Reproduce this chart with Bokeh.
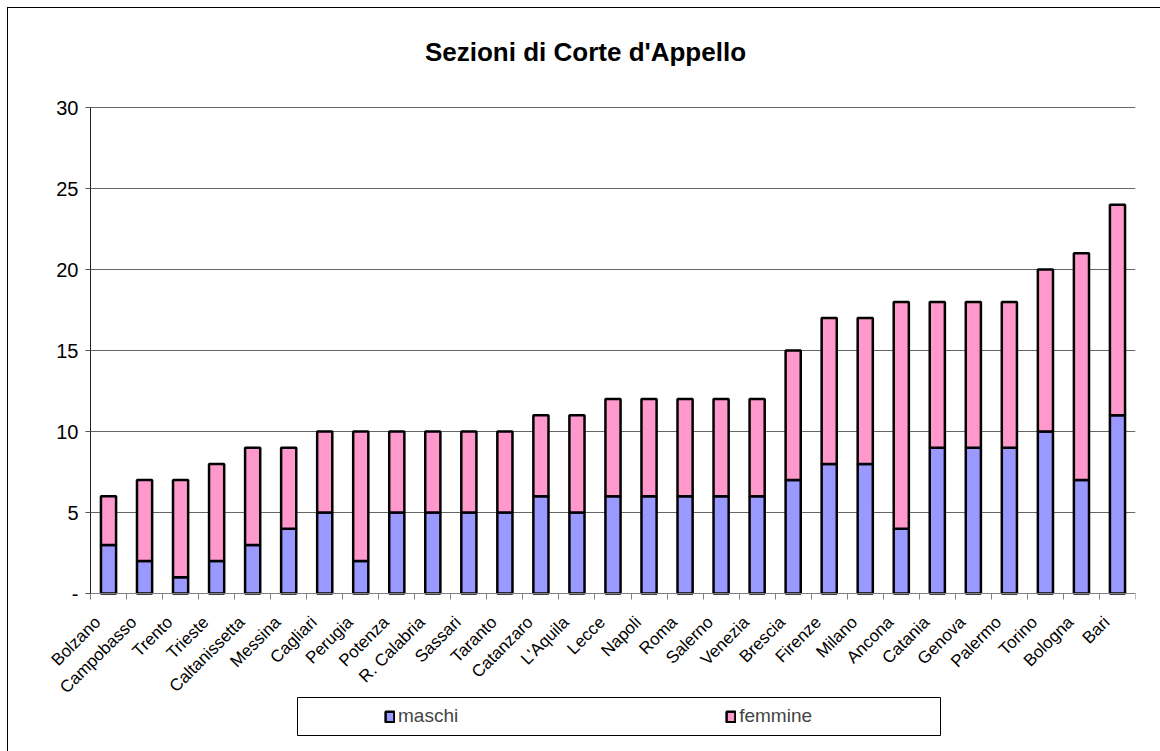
import numpy as np
from bokeh.plotting import figure
from bokeh.models import (ColumnDataSource, FixedTicker, Range1d, Legend, LegendItem, Label,
                          BoxAnnotation)
from bokeh.embed import file_html
from bokeh.resources import INLINE

cities = ["Bolzano", "Campobasso", "Trento", "Trieste", "Caltanissetta", "Messina",
          "Cagliari", "Perugia", "Potenza", "R. Calabria", "Sassari", "Taranto",
          "Catanzaro", "L'Aquila", "Lecce", "Napoli", "Roma", "Salerno", "Venezia",
          "Brescia", "Firenze", "Milano", "Ancona", "Catania", "Genova", "Palermo",
          "Torino", "Bologna", "Bari"]
maschi = [3, 2, 1, 2, 3, 4, 5, 2, 5, 5, 5, 5, 6, 5, 6, 6, 6, 6, 6, 7, 8, 8, 4, 9, 9, 9, 10, 7, 11]
femmine = [3, 5, 6, 6, 6, 5, 5, 8, 5, 5, 5, 5, 5, 6, 6, 6, 6, 6, 6, 8, 9, 9, 14, 9, 9, 9, 10, 14, 13]
y_ticks = [0, 5, 10, 15, 20, 25, 30]
y_labels = ["-", "5", "10", "15", "20", "25", "30"]
series = ["maschi", "femmine"]
colors = ["#9999FF", "#FF99CC"]
title_text = "Sezioni di Corte d'Appello"

n = len(cities)
centers = [i + 0.5 for i in range(n)]
src = ColumnDataSource(dict(x=centers, maschi=maschi, femmine=femmine))

FONT = "Liberation Sans"

# The frame covers the whole chart area so that rotated labels, title and legend
# are not clipped; the value axis spans 0..30 over 486 px, categories over 1045 px.
PX_PER_UNIT = 486 / 30
PX_PER_CAT = 1045 / n
LEFT_PAD = 60
y_lo = -(747 - 593) / PX_PER_UNIT
y_hi = 30 + (107 - 12) / PX_PER_UNIT
x_lo = -LEFT_PAD / PX_PER_CAT

p = figure(frame_width=1045 + LEFT_PAD, frame_height=735, output_backend="svg",
           toolbar_location=None,
           x_range=Range1d(x_lo, n), y_range=Range1d(y_lo, y_hi),
           min_border_left=82 - LEFT_PAD, min_border_right=25, min_border_top=4,
           min_border_bottom=4)
p.title.visible = False
p.styles = {"border-left": "1px solid black", "border-top": "1px solid black",
            "margin-left": "7px", "margin-top": "7px"}
p.outline_line_color = None
p.background_fill_color = "white"

rs = p.vbar_stack(series, x="x", width=0.42, color=colors, line_color="black",
                  line_width=2.5, source=src)

# title
p.add_layout(Label(x=495 + LEFT_PAD, y=696, x_units="screen", y_units="screen",
                   text=title_text, text_font=FONT, text_font_size="26px",
                   text_font_style="bold", text_color="black",
                   text_align="center", text_baseline="middle"))

# y axis at category position 0
p.yaxis.fixed_location = 0
p.yaxis.ticker = FixedTicker(ticks=y_ticks)
p.yaxis.bounds = (0, 30)
p.yaxis.major_label_overrides = {t: l for t, l in zip(y_ticks, y_labels)}
p.yaxis.major_label_text_font = FONT
p.yaxis.major_label_text_font_size = "20px"
p.yaxis.major_label_text_color = "black"
p.yaxis.axis_line_color = "#222222"
p.yaxis.major_tick_line_color = "#555555"
p.yaxis.major_tick_out = 5
p.yaxis.major_tick_in = 0
p.yaxis.minor_tick_line_color = None
p.yaxis.major_label_standoff = 7

# x axis at value 0: rotated category labels, small ticks between categories
label_pos = [c - 0.3 for c in centers]
p.xaxis.fixed_location = 0
p.xaxis.bounds = (0, n)
p.xaxis.ticker = FixedTicker(ticks=label_pos, minor_ticks=list(range(n + 1)))
p.xaxis.major_label_overrides = {c: name for c, name in zip(label_pos, cities)}
p.xaxis.major_label_orientation = np.pi / 4
p.xaxis.major_label_text_font = FONT
p.xaxis.major_label_text_font_size = "17px"
p.xaxis.major_label_text_color = "black"
p.xaxis.major_label_standoff = 20
p.xaxis.axis_line_color = "#808080"
p.xaxis.major_tick_line_color = None
p.xaxis.major_tick_out = 0
p.xaxis.major_tick_in = 0
p.xaxis.minor_tick_line_color = "#808080"
p.xaxis.minor_tick_out = 6
p.xaxis.minor_tick_in = 0

p.xgrid.grid_line_color = None
p.ygrid.ticker = FixedTicker(ticks=y_ticks)
p.ygrid.grid_line_color = "#666666"
try:
    p.ygrid.cross_bounds = (0, n)
except Exception:
    pass

# legend frame and entries
p.add_layout(BoxAnnotation(left=207 + LEFT_PAD, right=850 + LEFT_PAD, bottom=12, top=50,
                           left_units="screen", right_units="screen",
                           bottom_units="screen", top_units="screen",
                           fill_color="white", fill_alpha=1,
                           line_color="black", line_width=1, line_alpha=1))
entries = Legend(items=[LegendItem(label=s, renderers=[r]) for s, r in zip(series, rs)],
                 location=(294 + LEFT_PAD, 20), orientation="horizontal",
                 label_text_font=FONT, label_text_font_size="19px",
                 glyph_width=11, glyph_height=13, label_standoff=3,
                 label_width=60, label_height=22, spacing=267, padding=0, margin=0,
                 border_line_color=None, background_fill_alpha=0)
p.add_layout(entries)

open("out.html", "w").write(file_html(p, INLINE))
